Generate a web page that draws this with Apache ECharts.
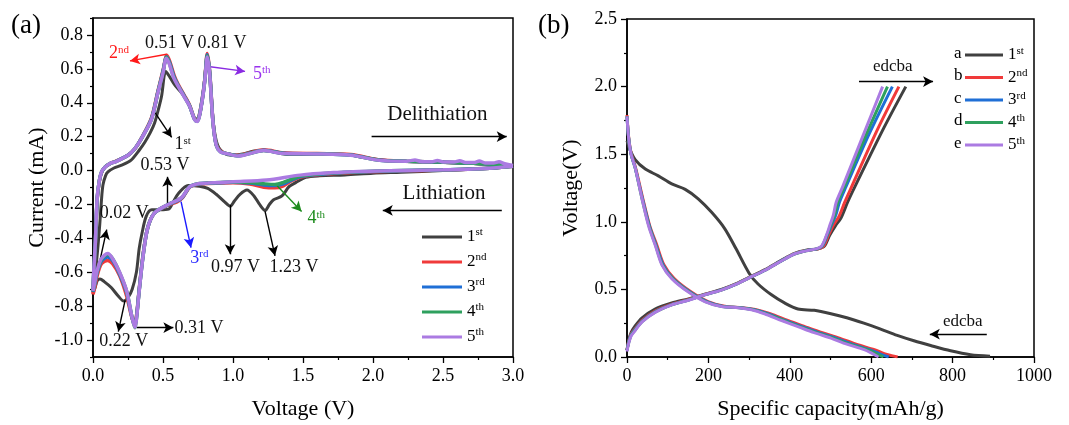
<!DOCTYPE html>
<html><head><meta charset="utf-8">
<script src="https://cdn.jsdelivr.net/npm/echarts@6/dist/echarts.min.js"></script>
<style>html,body{margin:0;padding:0;background:#fff}#c{width:1069px;height:425px}</style>
</head><body><div id="c"></div>
<script>
// ---------- categories / ticks ----------
const cycleNames = ['1st', '2nd', '3rd', '4th', '5th'];
const cycleLetters = ['a', 'b', 'c', 'd', 'e'];
const cycleColors = ['#404040', '#f03a3a', '#1f6fd6', '#2ea05e', '#ab7be2'];
const cvMajorTicks = [-1.0, -0.8, -0.6, -0.4, -0.2, 0.0, 0.2, 0.4, 0.6, 0.8];
const cvMinorTicks = [-1.1, -0.9, -0.7, -0.5, -0.3, -0.1, 0.1, 0.3, 0.5, 0.7, 0.9];

// ---------- (a) CV curves: [voltage V, current mA] ----------
const cvCycle1 = [[3.00,0.025],[2.80,0.012],[2.50,0.000],[2.20,-0.010],[2.00,-0.016],[1.80,-0.026],[1.62,-0.031],[1.52,-0.040],[1.45,-0.070],[1.40,-0.095],[1.35,-0.150],[1.29,-0.172],[1.26,-0.200],[1.23,-0.235],[1.19,-0.200],[1.15,-0.150],[1.10,-0.115],[1.05,-0.140],[1.01,-0.180],[0.98,-0.210],[0.94,-0.185],[0.88,-0.140],[0.82,-0.105],[0.76,-0.092],[0.68,-0.088],[0.61,-0.135],[0.57,-0.190],[0.54,-0.228],[0.48,-0.232],[0.42,-0.232],[0.38,-0.270],[0.35,-0.370],[0.33,-0.460],[0.31,-0.600],[0.28,-0.700],[0.25,-0.750],[0.22,-0.770],[0.18,-0.740],[0.13,-0.690],[0.08,-0.655],[0.05,-0.640],[0.03,-0.650],[0.015,-0.690],[0.00,-0.720],
  [0.02,-0.580],[0.035,-0.450],[0.048,-0.320],[0.06,-0.180],[0.071,-0.086],[0.09,-0.030],[0.107,-0.008],[0.15,0.015],[0.20,0.030],[0.27,0.060],[0.33,0.120],[0.37,0.167],[0.41,0.225],[0.44,0.280],[0.47,0.370],[0.49,0.440],[0.52,0.585],[0.55,0.550],[0.58,0.510],[0.62,0.470],[0.66,0.430],[0.70,0.360],[0.73,0.300],[0.76,0.320],[0.79,0.480],[0.815,0.660],[0.835,0.560],[0.86,0.280],[0.89,0.150],[0.94,0.100],[1.00,0.090],[1.08,0.100],[1.15,0.115],[1.22,0.118],[1.30,0.110],[1.40,0.095],[1.60,0.095],[1.80,0.095],[1.95,0.075],[2.10,0.060],[2.30,0.052],[2.60,0.045],[2.80,0.038],[3.00,0.025]];
const cvCycle2 = [[3.00,0.025],[2.80,0.012],[2.50,0.003],[2.20,-0.002],[1.90,-0.010],[1.72,-0.018],[1.50,-0.035],[1.42,-0.060],[1.36,-0.090],[1.30,-0.102],[1.22,-0.098],[1.12,-0.080],[1.00,-0.072],[0.82,-0.076],[0.76,-0.080],[0.70,-0.092],[0.68,-0.108],[0.64,-0.160],[0.60,-0.185],[0.536,-0.205],[0.44,-0.250],[0.39,-0.340],[0.357,-0.500],[0.33,-0.700],[0.31,-0.860],[0.295,-0.900],[0.275,-0.860],[0.24,-0.740],[0.19,-0.620],[0.14,-0.550],[0.105,-0.530],[0.06,-0.550],[0.03,-0.620],[0.01,-0.700],[0.00,-0.730],
  [0.005,-0.620],[0.017,-0.430],[0.03,-0.170],[0.045,-0.065],[0.06,-0.015],[0.085,0.020],[0.13,0.045],[0.155,0.052],[0.25,0.090],[0.30,0.130],[0.345,0.190],[0.417,0.310],[0.464,0.470],[0.50,0.590],[0.528,0.680],[0.55,0.640],[0.58,0.560],[0.607,0.510],[0.655,0.440],[0.69,0.385],[0.726,0.305],[0.745,0.295],[0.76,0.330],[0.785,0.450],[0.80,0.550],[0.816,0.690],[0.833,0.590],[0.857,0.290],[0.88,0.155],[0.91,0.115],[0.955,0.100],[1.036,0.090],[1.12,0.105],[1.22,0.122],[1.36,0.105],[1.60,0.100],[1.84,0.095],[2.05,0.062],[2.24,0.055],[2.50,0.050],[2.80,0.040],[3.00,0.025]];
const cvCycle3 = [[3.00,0.025],[2.80,0.012],[2.50,0.004],[2.20,-0.001],[1.90,-0.008],[1.72,-0.015],[1.50,-0.032],[1.42,-0.055],[1.36,-0.078],[1.30,-0.088],[1.22,-0.085],[1.12,-0.074],[1.00,-0.069],[0.82,-0.075],[0.76,-0.078],[0.70,-0.091],[0.68,-0.106],[0.64,-0.156],[0.60,-0.180],[0.536,-0.202],[0.44,-0.250],[0.39,-0.340],[0.357,-0.505],[0.33,-0.705],[0.31,-0.870],[0.298,-0.915],[0.278,-0.865],[0.24,-0.720],[0.19,-0.610],[0.14,-0.530],[0.105,-0.510],[0.06,-0.535],[0.03,-0.600],[0.01,-0.680],[0.00,-0.715],
  [0.005,-0.610],[0.017,-0.425],[0.03,-0.165],[0.045,-0.062],[0.06,-0.012],[0.085,0.020],[0.13,0.045],[0.155,0.051],[0.25,0.090],[0.30,0.130],[0.345,0.188],[0.417,0.305],[0.464,0.465],[0.50,0.585],[0.526,0.672],[0.548,0.635],[0.578,0.555],[0.607,0.505],[0.655,0.435],[0.69,0.382],[0.726,0.302],[0.745,0.292],[0.76,0.325],[0.785,0.445],[0.80,0.545],[0.816,0.683],[0.833,0.583],[0.857,0.287],[0.88,0.152],[0.91,0.112],[0.955,0.100],[1.036,0.088],[1.12,0.102],[1.22,0.120],[1.36,0.102],[1.60,0.099],[1.84,0.092],[2.05,0.061],[2.24,0.055],[2.50,0.050],[2.80,0.040],[3.00,0.025]];
const cvCycle4 = [[3.00,0.025],[2.80,0.012],[2.50,0.004],[2.20,0.000],[1.90,-0.007],[1.72,-0.013],[1.50,-0.030],[1.42,-0.050],[1.36,-0.070],[1.30,-0.082],[1.22,-0.078],[1.12,-0.070],[1.00,-0.067],[0.82,-0.074],[0.76,-0.077],[0.70,-0.090],[0.68,-0.105],[0.64,-0.154],[0.60,-0.176],[0.536,-0.201],[0.44,-0.250],[0.39,-0.340],[0.357,-0.508],[0.33,-0.708],[0.31,-0.878],[0.30,-0.928],[0.28,-0.870],[0.24,-0.712],[0.19,-0.602],[0.14,-0.520],[0.105,-0.495],[0.06,-0.525],[0.03,-0.595],[0.01,-0.675],[0.00,-0.712],
  [0.005,-0.605],[0.017,-0.422],[0.03,-0.162],[0.045,-0.061],[0.06,-0.011],[0.085,0.020],[0.13,0.045],[0.155,0.050],[0.25,0.090],[0.30,0.130],[0.345,0.187],[0.417,0.302],[0.464,0.462],[0.50,0.580],[0.525,0.668],[0.546,0.632],[0.576,0.552],[0.607,0.502],[0.655,0.432],[0.69,0.381],[0.726,0.301],[0.745,0.291],[0.76,0.322],[0.785,0.442],[0.80,0.542],[0.816,0.678],[0.833,0.579],[0.857,0.286],[0.88,0.151],[0.91,0.111],[0.955,0.100],[1.036,0.087],[1.12,0.101],[1.22,0.119],[1.36,0.101],[1.60,0.098],[1.84,0.091],[2.05,0.060],[2.24,0.055],[2.50,0.050],[2.80,0.040],[3.00,0.025]];
const cvCycle5 = [[3.00,0.025],[2.80,0.012],[2.50,0.004],[2.20,0.000],[2.05,-0.002],[1.90,-0.006],[1.72,-0.012],[1.48,-0.027],[1.24,-0.056],[1.00,-0.066],[0.82,-0.074],[0.76,-0.076],[0.70,-0.090],[0.68,-0.105],[0.64,-0.153],[0.607,-0.173],[0.536,-0.200],[0.44,-0.250],[0.39,-0.340],[0.357,-0.510],[0.33,-0.710],[0.31,-0.880],[0.30,-0.925],[0.28,-0.870],[0.24,-0.710],[0.19,-0.600],[0.14,-0.520],[0.105,-0.490],[0.06,-0.520],[0.03,-0.590],[0.01,-0.670],[0.00,-0.710],
  [0.005,-0.600],[0.017,-0.420],[0.03,-0.160],[0.045,-0.060],[0.06,-0.010],[0.085,0.020],[0.13,0.045],[0.155,0.050],[0.25,0.090],[0.30,0.130],[0.345,0.187],[0.417,0.300],[0.464,0.460],[0.50,0.575],[0.524,0.663],[0.545,0.630],[0.575,0.550],[0.607,0.500],[0.655,0.430],[0.69,0.380],[0.726,0.300],[0.745,0.290],[0.76,0.320],[0.785,0.440],[0.80,0.540],[0.816,0.670],[0.833,0.575],[0.857,0.285],[0.88,0.150],[0.91,0.110],[0.955,0.100],[1.036,0.086],[1.12,0.100],[1.22,0.118],[1.36,0.100],[1.60,0.098],[1.84,0.090],[2.05,0.060],[2.24,0.055],[2.30,0.062],[2.34,0.054],[2.42,0.052],[2.46,0.060],[2.50,0.051],[2.58,0.050],[2.62,0.058],[2.66,0.048],[2.72,0.047],[2.76,0.056],[2.80,0.045],[2.86,0.044],[2.90,0.052],[2.94,0.040],[3.00,0.030]];

// ---------- (b) charge / discharge: [capacity mAh/g, voltage V] ----------
const dischargeCycle1 = [[0,1.60],[5,1.55],[20,1.46],[45,1.39],[77,1.34],[110,1.28],[143,1.24],[175,1.17],[208,1.07],[240,0.95],[268,0.80],[300,0.62],[322,0.54],[355,0.46],[387,0.40],[420,0.355],[460,0.345],[501,0.32],[540,0.29],[582,0.25],[620,0.21],[664,0.16],[705,0.12],[746,0.085],[795,0.046],[844,0.017],[892,0.006]];
const dischargeCycle2 = [[0,1.79],[4,1.63],[10,1.51],[21,1.40],[39,1.17],[56,0.97],[73,0.83],[91,0.68],[116,0.58],[158,0.48],[199,0.41],[240,0.375],[283,0.365],[318,0.35],[352,0.32],[395,0.27],[437,0.225],[480,0.18],[522,0.14],[563,0.095],[608,0.054],[632,0.025],[650,0.01],[665,0.0]];
const dischargeCycle3 = [[0,1.78],[4,1.62],[10,1.50],[20,1.40],[38,1.17],[55,0.97],[71,0.83],[89,0.68],[113,0.58],[155,0.48],[196,0.41],[237,0.374],[279,0.365],[313,0.35],[346,0.32],[389,0.27],[430,0.225],[471,0.18],[513,0.14],[553,0.095],[596,0.054],[620,0.025],[633,0.01],[643,0.0]];
const dischargeCycle4 = [[0,1.78],[4,1.62],[10,1.50],[20,1.40],[37,1.17],[54,0.97],[70,0.83],[87,0.68],[112,0.58],[153,0.48],[193,0.41],[234,0.373],[276,0.365],[310,0.35],[342,0.32],[385,0.27],[425,0.225],[466,0.18],[507,0.14],[547,0.095],[590,0.054],[612,0.025],[623,0.01],[630,0.0]];
const dischargeCycle5 = [[0,1.78],[4,1.62],[10,1.50],[20,1.40],[37,1.17],[53,0.97],[69,0.83],[86,0.68],[110,0.58],[151,0.48],[191,0.41],[232,0.373],[273,0.365],[306,0.35],[338,0.32],[380,0.27],[420,0.225],[460,0.18],[501,0.14],[540,0.095],[583,0.054],[603,0.025],[612,0.01],[618,0.0]];
const chargeCycle1 = [[0,0.05],[4,0.12],[10,0.18],[20,0.23],[37,0.29],[69,0.355],[110,0.40],[151,0.43],[191,0.465],[232,0.50],[270,0.545],[300,0.59],[338,0.645],[379,0.715],[410,0.765],[440,0.79],[470,0.80],[485,0.82],[498,0.90],[512,0.97],[526,1.03],[542,1.145],[560,1.26],[632,1.70],[685,2.0]];
const chargeCycle2 = [[0,0.05],[4,0.115],[10,0.17],[20,0.21],[37,0.27],[69,0.34],[110,0.39],[151,0.425],[191,0.462],[232,0.497],[270,0.542],[300,0.587],[338,0.642],[379,0.712],[410,0.762],[440,0.788],[470,0.80],[483,0.82],[495,0.90],[508,0.98],[521,1.04],[535,1.145],[552,1.26],[615,1.68],[668,2.0]];
const chargeCycle3 = [[0,0.05],[4,0.11],[10,0.165],[20,0.205],[37,0.265],[69,0.335],[110,0.387],[151,0.422],[191,0.461],[232,0.496],[270,0.541],[300,0.586],[338,0.641],[379,0.711],[410,0.761],[440,0.787],[467,0.80],[480,0.82],[492,0.90],[503,0.98],[513,1.05],[522,1.145],[538,1.26],[595,1.65],[652,2.0]];
const chargeCycle4 = [[0,0.05],[4,0.105],[10,0.16],[20,0.20],[37,0.262],[69,0.332],[110,0.386],[151,0.421],[191,0.46],[232,0.495],[270,0.54],[300,0.585],[338,0.64],[379,0.71],[410,0.76],[440,0.786],[466,0.80],[479,0.82],[491,0.90],[501,0.98],[510,1.05],[518,1.145],[534,1.26],[587,1.64],[640,2.0]];
const chargeCycle5 = [[0,0.04],[4,0.10],[10,0.155],[20,0.195],[37,0.26],[69,0.33],[110,0.385],[151,0.42],[191,0.46],[232,0.495],[270,0.54],[300,0.585],[338,0.64],[379,0.71],[410,0.76],[440,0.785],[465,0.80],[478,0.82],[490,0.90],[499,0.98],[507,1.05],[514,1.145],[530,1.26],[579,1.63],[628,2.0]];

const cvData = [cvCycle1, cvCycle2, cvCycle3, cvCycle4, cvCycle5];
const dischargeData = [dischargeCycle1, dischargeCycle2, dischargeCycle3, dischargeCycle4, dischargeCycle5];
const chargeData = [chargeCycle1, chargeCycle2, chargeCycle3, chargeCycle4, chargeCycle5];

// ---------- annotations (data coordinates) ----------
const annArrowsA = [
  {from:[0.526,0.686], to:[0.264,0.647], color:'#ff1a1a'},
  {from:[0.824,0.614], to:[1.086,0.585], color:'#8a2be2'},
  {from:[0.443,0.342], to:[0.562,0.196], color:'#000'},
  {from:[0.533,-0.192], to:[0.533,-0.037], color:'#000'},
  {from:[0.026,-0.62], to:[0.098,-0.348], color:'#000'},
  {from:[0.629,-0.183], to:[0.70,-0.455], color:'#1a1aff'},
  {from:[0.979,-0.202], to:[0.979,-0.494], color:'#000'},
  {from:[1.229,-0.241], to:[1.30,-0.503], color:'#000'},
  {from:[1.30,-0.076], to:[1.49,-0.241], color:'#1e8c1e'},
  {from:[0.229,-0.766], to:[0.181,-0.95], color:'#000'},
  {from:[0.312,-0.927], to:[0.574,-0.927], color:'#000'},
  {from:[1.99,0.20], to:[2.955,0.20], color:'#000'},
  {from:[2.92,-0.235], to:[2.07,-0.235], color:'#000'}
];
const annTextsA = [
  {pos:[0.186,0.690], text:'2{sup|nd}', color:'#ff1a1a', size:18},
  {pos:[0.546,0.750], text:'0.51 V', color:'#111', size:18},
  {pos:[0.921,0.750], text:'0.81 V', color:'#111', size:18},
  {pos:[1.205,0.570], text:'5{sup|th}', color:'#9932ee', size:18},
  {pos:[0.640,0.155], text:'1{sup|st}', color:'#111', size:18},
  {pos:[0.514,0.031], text:'0.53 V', color:'#111', size:18},
  {pos:[0.223,-0.251], text:'0.02 V', color:'#111', size:18},
  {pos:[0.760,-0.515], text:'3{sup|rd}', color:'#2a2aff', size:18},
  {pos:[1.018,-0.571], text:'0.97 V', color:'#111', size:18},
  {pos:[1.436,-0.571], text:'1.23 V', color:'#111', size:18},
  {pos:[1.595,-0.283], text:'4{sup|th}', color:'#1e8c1e', size:18},
  {pos:[0.220,-1.009], text:'0.22 V', color:'#111', size:18},
  {pos:[0.757,-0.931], text:'0.31 V', color:'#111', size:18},
  {pos:[2.46,0.332], text:'Delithiation', color:'#111', size:21},
  {pos:[2.507,-0.134], text:'Lithiation', color:'#111', size:21}
];
const annArrowsB = [
  {from:[570,2.037], to:[752,2.037], color:'#000'},
  {from:[884,0.169], to:[744,0.169], color:'#000'}
];
const annTextsB = [
  {pos:[653,2.147], text:'edcba', color:'#111', size:17},
  {pos:[825,0.265], text:'edcba', color:'#111', size:17}
];

const FONT = 'Liberation Serif';
const supFmt = (s) => s.replace(/^(\d)(st|nd|rd|th)$/, '$1{sup|$2}');

function markerSeries(xi, arrows, texts) {
  return {
    type: 'line', xAxisIndex: xi, yAxisIndex: xi === 0 ? 0 : 2, data: [], silent: true, z: 10,
    markLine: {
      silent: true, animation: false, symbol: ['none', 'arrow'], symbolSize: [8, 10],
      label: { show: false },
      lineStyle: { type: 'solid', width: 1.4, color: '#000' },
      emphasis: { disabled: true },
      data: arrows.map(a => [{ coord: a.from, lineStyle: { color: a.color, type: 'solid', width: 1.4 }, itemStyle: { color: a.color } }, { coord: a.to, itemStyle: { color: a.color } }])
    },
    markPoint: {
      silent: true, animation: false, symbol: 'circle', symbolSize: 0,
      data: texts.map(t => ({
        coord: t.pos,
        label: { show: true, position: 'inside', formatter: t.text, color: t.color, fontSize: t.size, fontFamily: FONT,
          rich: { sup: { fontSize: Math.round(t.size * 0.62), verticalAlign: 'top', fontFamily: FONT, color: t.color } } }
      }))
    }
  };
}

const axisCommon = {
  axisLine: { show: true, onZero: false, lineStyle: { color: '#000', width: 1.5 } },
  axisTick: { show: true, inside: false, length: 6, lineStyle: { color: '#000', width: 1.3 } },
  minorTick: { show: true, splitNumber: 2, length: 3, lineStyle: { color: '#000', width: 1.2 } },
  splitLine: { show: false },
  axisLabel: { color: '#000', fontSize: 18, fontFamily: FONT, margin: 10 },
  nameTextStyle: { color: '#000', fontSize: 22, fontFamily: FONT },
  nameLocation: 'middle'
};

const series = [];
cvData.forEach((d, i) => series.push({
  name: cycleNames[i], type: 'line', xAxisIndex: 0, yAxisIndex: 0, data: d,
  showSymbol: false, smooth: 0.3, lineStyle: { width: i === 0 ? 3 : 3.5, color: cycleColors[i] },
  itemStyle: { color: cycleColors[i] }, z: 2 + i
}));
dischargeData.forEach((d, i) => series.push({
  name: cycleNames[i], type: 'line', xAxisIndex: 1, yAxisIndex: 2, data: d,
  showSymbol: false, smooth: 0.3, lineStyle: { width: 3, color: cycleColors[i] },
  itemStyle: { color: cycleColors[i] }, z: 2 + i
}));
chargeData.forEach((d, i) => series.push({
  name: cycleNames[i], type: 'line', xAxisIndex: 1, yAxisIndex: 2, data: d,
  showSymbol: false, smooth: 0.3, lineStyle: { width: 3, color: cycleColors[i] },
  itemStyle: { color: cycleColors[i] }, z: 2 + i
}));
series.push(markerSeries(0, annArrowsA, annTextsA));
series.push(markerSeries(1, annArrowsB, annTextsB));

const legendText = (lh) => ({ color: '#000', fontSize: 17, fontFamily: FONT, lineHeight: lh,
  rich: { sup: { fontSize: 11, verticalAlign: 'top', lineHeight: lh, fontFamily: FONT, color: '#000' } } });

const option = {
  animation: false,
  backgroundColor: '#fff',
  grid: [
    { left: 93, right: 556, top: 18, bottom: 66, show: true, borderColor: '#000', borderWidth: 1.5, backgroundColor: 'transparent' },
    { left: 627, right: 35, top: 19, bottom: 66, show: true, borderColor: '#000', borderWidth: 1.5, backgroundColor: 'transparent' }
  ],
  xAxis: [
    Object.assign({}, axisCommon, { gridIndex: 0, type: 'value', min: 0, max: 3, interval: 0.5, name: 'Voltage (V)', nameGap: 41,
      axisLabel: Object.assign({}, axisCommon.axisLabel, { formatter: v => v.toFixed(1) }) }),
    Object.assign({}, axisCommon, { gridIndex: 1, type: 'value', min: 0, max: 1000, interval: 200, name: 'Specific capacity(mAh/g)', nameGap: 41,
      axisLabel: Object.assign({}, axisCommon.axisLabel, { formatter: v => String(Math.round(v)) }) })
  ],
  yAxis: [
    Object.assign({}, axisCommon, { gridIndex: 0, type: 'value', min: -1.1, max: 0.9, name: 'Current (mA)', nameGap: 45,
      minorTick: { show: false },
      axisTick: Object.assign({}, axisCommon.axisTick, { customValues: cvMajorTicks }),
      axisLabel: Object.assign({}, axisCommon.axisLabel, { customValues: cvMajorTicks, formatter: v => v.toFixed(1) }) }),
    { gridIndex: 0, type: 'value', min: -1.1, max: 0.9, position: 'left',
      axisLine: { show: false }, splitLine: { show: false }, axisLabel: { show: false },
      axisTick: { show: true, length: 3, customValues: cvMinorTicks, lineStyle: { color: '#000', width: 1.2 } } },
    Object.assign({}, axisCommon, { gridIndex: 1, type: 'value', min: 0, max: 2.5, interval: 0.5, name: 'Voltage(V)', nameGap: 45,
      axisLabel: Object.assign({}, axisCommon.axisLabel, { formatter: v => v.toFixed(1) }) })
  ],
  legend: [
    { data: cycleNames, orient: 'vertical', left: 422, top: 227, padding: 0, icon: 'rect', itemWidth: 40, itemHeight: 3, itemGap: 5,
      formatter: supFmt, textStyle: legendText(20), selectedMode: false },
    { data: cycleNames, orient: 'vertical', left: 965, top: 45.5, padding: 0, icon: 'rect', itemWidth: 38, itemHeight: 3, itemGap: 3.5,
      formatter: supFmt, textStyle: legendText(19), selectedMode: false }
  ],
  graphic: [
    { type: 'text', left: 11, top: 12, style: { text: '(a)', fontSize: 27, fontFamily: FONT, fill: '#000' } },
    { type: 'text', left: 538, top: 12, style: { text: '(b)', fontSize: 27, fontFamily: FONT, fill: '#000' } }
  ].concat(cycleLetters.map((l, i) => ({ type: 'text', left: 954, top: 45 + i * 22.4,
      style: { text: l, fontSize: 17, fontFamily: FONT, fill: '#000' } }))),
  series: series
};

const chart = echarts.init(document.getElementById('c'), null, { renderer: 'canvas' });
chart.setOption(option);
</script>
</body></html>
